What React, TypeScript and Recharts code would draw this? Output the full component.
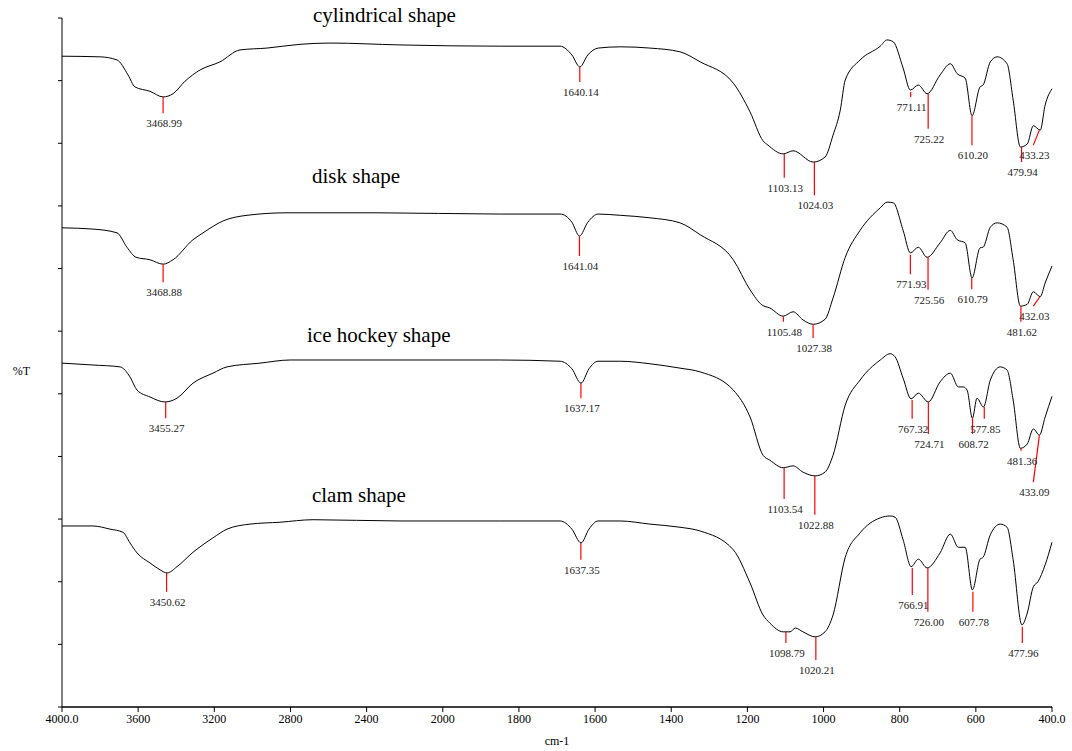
import { ComposedChart, Line, Scatter, XAxis, YAxis, ReferenceLine } from "recharts"

const serif = "'Liberation Serif', 'Times New Roman', serif"

const tickLabels = ["4000.0", "3600", "3200", "2800", "2400", "2000", "1800", "1600", "1400", "1200", "1000", "800", "600", "400.0"]
const tickPos = tickLabels.map((_, i) => i)
const yTicks = [0, 10, 20, 30, 40, 50, 60, 70, 80, 90, 100, 110]

// [wavenumber cm-1, %T (stacked, arbitrary offset)]
const cylindrical: [number, number][] = [
  [4000, 103.9], [3800, 103.8], [3711, 103.3], [3653, 100.9], [3617, 99.0], [3538, 98.3], [3469, 97.4], [3417, 97.9],
  [3354, 99.9], [3275, 101.7], [3170, 103.0], [3065, 104.9], [2923, 105.2], [2750, 105.8], [2592, 106.0], [2225, 105.7],
  [1850, 105.5], [1692, 105.5], [1661, 104.1], [1640, 102.2], [1619, 104.1], [1592, 105.2], [1534, 105.4], [1456, 105.2],
  [1377, 104.6], [1324, 103.0], [1237, 99.6], [1193, 95.0], [1159, 90.4], [1146, 89.7], [1106, 88.3], [1080, 88.8],
  [1027, 87.0], [996, 87.8], [975, 91.3], [956, 95.3], [943, 100.1], [904, 103.3], [851, 105.5], [833, 106.5], [817, 106.2],
  [791, 102.0], [772, 98.5], [751, 99.3], [728, 97.9], [694, 100.9], [667, 102.7], [649, 101.1], [628, 100.4], [610, 94.4],
  [589, 99.0], [581, 99.3], [562, 103.0], [544, 103.8], [518, 102.7], [502, 96.9], [483, 89.4], [465, 89.9], [449, 92.8],
  [431, 92.1], [418, 96.1], [400, 98.7],
]

const disk: [number, number][] = [
  [4000, 76.5], [3837, 76.3], [3711, 75.7], [3659, 73.4], [3611, 71.8], [3538, 71.4], [3469, 70.7], [3417, 71.4],
  [3312, 74.6], [3259, 75.7], [3154, 77.6], [3028, 78.5], [2818, 78.9], [2345, 78.9], [1850, 78.7], [1692, 78.7],
  [1661, 77.4], [1641, 75.2], [1619, 77.4], [1592, 78.7], [1534, 78.5], [1456, 78.1], [1377, 77.3], [1324, 75.4],
  [1237, 71.4], [1193, 66.6], [1162, 64.2], [1141, 63.7], [1106, 62.4], [1080, 63.1], [1054, 61.8], [1027, 61.1],
  [996, 61.9], [975, 65.3], [943, 71.8], [904, 76.1], [851, 79.7], [833, 80.6], [817, 80.5], [791, 76.1], [772, 72.5],
  [751, 73.4], [728, 71.8], [694, 74.1], [667, 76.1], [649, 74.6], [628, 74.1], [610, 68.5], [589, 73.3], [581, 73.4],
  [562, 76.6], [544, 77.3], [518, 76.6], [502, 71.4], [483, 64.0], [465, 64.3], [449, 66.3], [431, 65.5], [418, 67.7],
  [400, 70.4],
]

const iceHockey: [number, number][] = [
  [4000, 54.9], [3837, 54.6], [3695, 54.3], [3643, 52.7], [3606, 50.6], [3538, 49.5], [3459, 48.7], [3396, 49.3],
  [3312, 51.7], [3207, 53.3], [3133, 54.3], [2960, 54.9], [2802, 55.4], [2225, 55.4], [1850, 55.4], [1692, 55.2],
  [1661, 54.0], [1637, 51.7], [1616, 54.0], [1592, 55.2], [1534, 55.2], [1456, 54.8], [1377, 54.1], [1324, 53.5],
  [1237, 50.6], [1193, 46.3], [1159, 40.2], [1141, 39.4], [1106, 38.2], [1080, 38.5], [1054, 37.5], [1022, 36.9],
  [996, 37.5], [975, 40.2], [943, 48.2], [904, 52.2], [851, 55.4], [825, 56.4], [812, 55.9], [791, 52.5], [770, 49.2],
  [751, 50.1], [725, 48.7], [694, 51.9], [667, 53.3], [646, 51.1], [633, 51.1], [623, 50.6], [609, 46.1], [597, 49.3],
  [580, 47.9], [562, 52.2], [536, 54.3], [518, 53.8], [502, 49.0], [483, 41.3], [465, 42.0], [449, 44.4], [433, 43.4],
  [418, 46.3], [400, 49.6],
]

const clam: [number, number][] = [
  [4000, 28.9], [3837, 28.9], [3748, 28.4], [3680, 27.9], [3643, 26.2], [3606, 24.6], [3538, 23.0], [3485, 21.9],
  [3448, 21.4], [3396, 22.4], [3312, 24.7], [3207, 27.0], [3133, 28.4], [3012, 29.2], [2855, 29.5], [2682, 29.9],
  [2225, 29.7], [1850, 29.7], [1692, 29.7], [1661, 28.4], [1637, 26.2], [1616, 28.4], [1592, 29.7], [1534, 29.7],
  [1456, 29.2], [1377, 28.7], [1324, 28.1], [1237, 25.1], [1193, 19.8], [1159, 14.7], [1141, 13.4], [1106, 12.0],
  [1088, 12.0], [1074, 12.6], [1054, 12.0], [1022, 11.2], [996, 12.0], [975, 14.7], [943, 23.9], [904, 27.8],
  [851, 30.2], [825, 30.5], [812, 30.3], [791, 26.7], [770, 22.4], [751, 23.6], [728, 22.2], [694, 24.6], [667, 27.6],
  [646, 25.5], [628, 25.5], [609, 18.7], [589, 23.6], [581, 23.9], [562, 27.5], [536, 29.2], [518, 28.7], [502, 23.5],
  [479, 13.1], [465, 15.0], [449, 19.2], [437, 20.0], [418, 22.7], [400, 26.3],
]

type Peak = { label: string; w: number; top: number; end: number; endW?: number }

const cylindricalPeaks: Peak[] = [
  { label: "3468.99", w: 3468.99, top: 97.4, end: 94.8 },
  { label: "1640.14", w: 1640.14, top: 102.2, end: 99.8 },
  { label: "1103.13", w: 1103.13, top: 88.3, end: 84.5 },
  { label: "1024.03", w: 1024.03, top: 87.0, end: 81.7 },
  { label: "771.11", w: 771.11, top: 98.2, end: 97.4 },
  { label: "725.22", w: 725.22, top: 97.9, end: 92.3 },
  { label: "610.20", w: 610.2, top: 94.4, end: 89.7 },
  { label: "479.94", w: 479.94, top: 89.4, end: 87.0 },
  { label: "433.23", w: 433.23, top: 92.1, end: 89.7, endW: 449 },
]

const diskPeaks: Peak[] = [
  { label: "3468.88", w: 3468.88, top: 70.7, end: 67.8 },
  { label: "1641.04", w: 1641.04, top: 75.2, end: 72.0 },
  { label: "1105.48", w: 1105.48, top: 62.4, end: 61.5 },
  { label: "1027.38", w: 1027.38, top: 61.1, end: 58.9 },
  { label: "771.93", w: 771.93, top: 72.2, end: 69.1 },
  { label: "725.56", w: 725.56, top: 71.8, end: 66.6 },
  { label: "610.79", w: 610.79, top: 68.5, end: 66.7 },
  { label: "481.62", w: 481.62, top: 64.0, end: 61.5 },
  { label: "432.03", w: 432.03, top: 65.5, end: 64.0, endW: 449 },
]

const iceHockeyPeaks: Peak[] = [
  { label: "3455.27", w: 3455.27, top: 48.7, end: 46.1 },
  { label: "1637.17", w: 1637.17, top: 51.7, end: 49.3 },
  { label: "1103.54", w: 1103.54, top: 38.2, end: 33.2 },
  { label: "1022.88", w: 1022.88, top: 36.9, end: 30.7 },
  { label: "767.32", w: 767.32, top: 49.0, end: 46.0 },
  { label: "724.71", w: 724.71, top: 48.7, end: 43.6 },
  { label: "608.72", w: 608.72, top: 46.1, end: 43.6 },
  { label: "577.85", w: 577.85, top: 47.9, end: 46.0 },
  { label: "481.36", w: 481.36, top: 41.3, end: 40.9 },
  { label: "433.09", w: 433.09, top: 43.4, end: 35.9, endW: 449 },
]

const clamPeaks: Peak[] = [
  { label: "3450.62", w: 3450.62, top: 21.4, end: 18.4 },
  { label: "1637.35", w: 1637.35, top: 26.2, end: 23.5 },
  { label: "1098.79", w: 1098.79, top: 12.0, end: 10.2 },
  { label: "1020.21", w: 1020.21, top: 11.2, end: 7.5 },
  { label: "766.91", w: 766.91, top: 22.2, end: 17.9 },
  { label: "726.00", w: 726.0, top: 22.2, end: 15.2 },
  { label: "607.78", w: 607.78, top: 18.4, end: 15.2 },
  { label: "477.96", w: 477.96, top: 12.8, end: 10.2 },
]

const titles = [
  { name: "cylindrical shape", w: 2682, t: 109.4 },
  { name: "disk shape", w: 2687, t: 83.7 },
  { name: "ice hockey shape", w: 2713, t: 58.3 },
  { name: "clam shape", w: 2687, t: 32.7 },
]

// axis changes scale at 2000 cm-1 (400 per division above, 200 below)
const toPos = (w: number) => (w >= 2000 ? (4000 - w) / 400 : 5 + (2000 - w) / 200)

const toRows = (s: [number, number][]) => s.map(([w, t]) => ({ x: toPos(w), t }))

const spectra = [cylindrical, disk, iceHockey, clam].map(toRows)
const allPeaks = [...cylindricalPeaks, ...diskPeaks, ...iceHockeyPeaks, ...clamPeaks]
const labelRows = allPeaks.map((p) => ({ x: toPos(p.endW ?? p.w), t: p.end, label: p.label }))
const titleRows = titles.map((d) => ({ x: toPos(d.w), t: d.t, label: d.name }))

const PeakLabel = (props: any) => (
  <text x={props.cx + 1} y={props.cy + 14} textAnchor="middle" fontSize={11} fontFamily={serif} fill="#222">
    {props.payload.label}
  </text>
)

const TitleLabel = (props: any) => (
  <text x={props.cx} y={props.cy} textAnchor="start" fontSize={21} fontFamily={serif} fill="#000">
    {props.payload.label}
  </text>
)

export default function App() {
  return (
    <div style={{ fontFamily: serif }}>
      <style>{"body{margin:0} .recharts-text{font-family:'Liberation Serif','Times New Roman',serif}"}</style>
      <ComposedChart width={1072} height={751} margin={{ top: 18, right: 20, bottom: 6, left: 52 }}>
        <XAxis
          type="number"
          dataKey="x"
          domain={[0, 13]}
          ticks={tickPos}
          interval={0}
          height={38}
          tickSize={5}
          tickFormatter={(v: number) => tickLabels[v]}
          tick={{ fontSize: 12, fill: "#000", fontFamily: serif }}
          axisLine={{ stroke: "#000", strokeWidth: 1.5 }}
          tickLine={{ stroke: "#000" }}
          label={{ value: "cm-1", position: "insideBottom", offset: 0, fontSize: 12, fill: "#000", fontFamily: serif }}
        />
        <YAxis
          type="number"
          dataKey="t"
          domain={[0, 110]}
          ticks={yTicks}
          width={10}
          tickSize={4}
          tickFormatter={() => ""}
          axisLine={{ stroke: "#000" }}
          tickLine={{ stroke: "#000" }}
          label={{ value: "%T", position: "left", offset: 22, dy: 8, fontSize: 12, fill: "#000", fontFamily: serif }}
        />
        {spectra.map((rows, i) => (
          <Line
            key={i}
            data={rows}
            dataKey="t"
            type="monotone"
            stroke="#000"
            strokeWidth={1}
            dot={false}
            activeDot={false}
            isAnimationActive={false}
          />
        ))}
        {allPeaks.map((p, i) => (
          <ReferenceLine
            key={"p" + i}
            segment={[
              { x: toPos(p.w), y: p.top },
              { x: toPos(p.endW ?? p.w), y: p.end },
            ]}
            stroke="#ff0000"
            strokeWidth={1.2}
            ifOverflow="visible"
          />
        ))}
        <Scatter data={labelRows} dataKey="t" shape={PeakLabel} isAnimationActive={false} />
        <Scatter data={titleRows} dataKey="t" shape={TitleLabel} isAnimationActive={false} />
      </ComposedChart>
    </div>
  )
}
